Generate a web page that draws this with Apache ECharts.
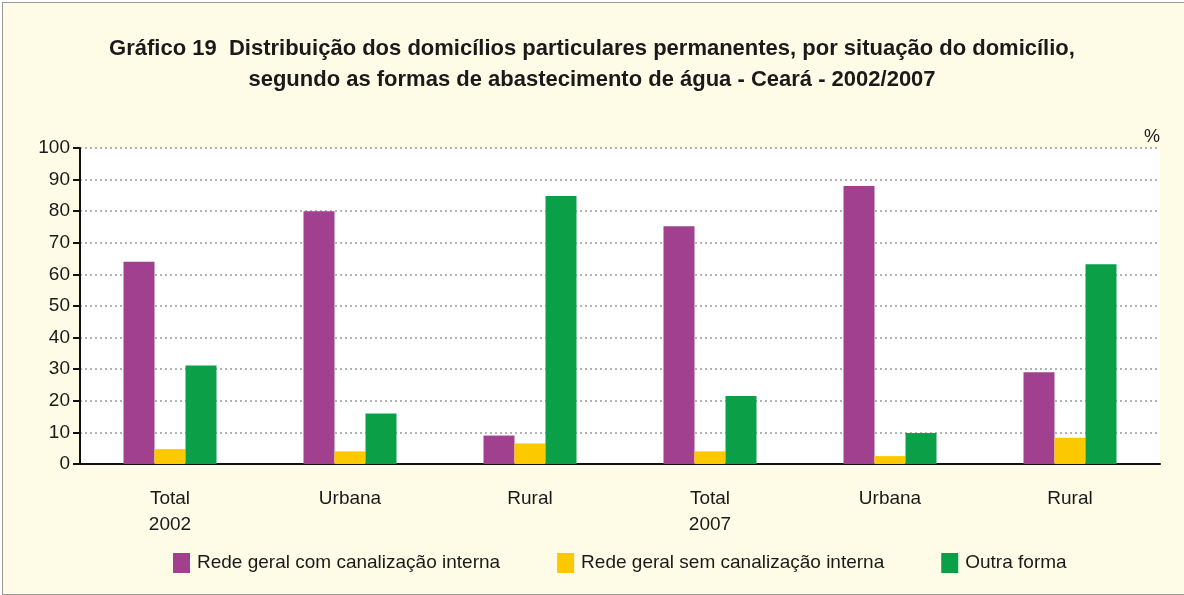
<!DOCTYPE html>
<html><head><meta charset="utf-8">
<script src="https://cdn.jsdelivr.net/npm/echarts@6/dist/echarts.min.js"></script>
<style>
html,body{margin:0;padding:0;background:#fff;}
#wrap{position:absolute;left:2px;top:2px;width:1182px;height:591px;border:1px solid #9a9a9a;border-right:none;background:#fefbe6;}
#c{width:1184px;height:595px;position:absolute;left:0;top:0;}
</style></head>
<body>
<div id="wrap"></div>
<div id="c"></div>
<script>
const categories = ['Total\n2002', 'Urbana', 'Rural', 'Total\n2007', 'Urbana', 'Rural'];
const seriesNames = ['Rede geral com canalização interna', 'Rede geral sem canalização interna', 'Outra forma'];
const redeCom = [64, 80, 9, 75.2, 88, 29];
const redeSem = [4.7, 4, 6.5, 4, 2.5, 8.3];
const outra = [31.2, 16, 84.8, 21.5, 9.8, 63.2];
const colors = ['#a0408f', '#fcc800', '#0b9f48'];
const FONT = '"Liberation Sans Narrow", "Arial Narrow", "Liberation Sans", sans-serif';

const chart = echarts.init(document.getElementById('c'), null, {renderer: 'canvas'});
chart.setOption({
  backgroundColor: 'transparent',
  animation: false,
  title: {
    text: 'Gráfico 19  Distribuição dos domicílios particulares permanentes, por situação do domicílio,\nsegundo as formas de abastecimento de água - Ceará - 2002/2007',
    left: 'center', top: 28,
    textStyle: {fontFamily: FONT, fontWeight: 'bold', fontSize: 22, lineHeight: 31, color: '#1a1a1a'}
  },
  legend: {
    bottom: 17, left: 168,
    itemWidth: 17, itemHeight: 20, itemGap: 57,
    icon: 'rect',
    textStyle: {fontFamily: FONT, fontSize: 19, color: '#1a1a1a', padding: [0,0,0,2]},
    data: seriesNames
  },
  grid: {left: 80, right: 24, top: 148, bottom: 131, show: true, backgroundColor: '#ffffff', borderWidth: 0},
  graphic: [{type: 'text', left: 1144, top: 128, style: {text: '%', font: '18px ' + FONT, fill: '#1a1a1a'}}],
  xAxis: {
    type: 'category', data: categories,
    axisLine: {lineStyle: {color: '#111', width: 2}},
    axisTick: {length: 9, lineStyle: {color: '#111', width: 2}},
    axisLabel: {fontFamily: FONT, fontSize: 19, color: '#1a1a1a', margin: 22, lineHeight: 26}
  },
  yAxis: {
    type: 'value', min: 0, max: 100, interval: 10,
    axisLine: {show: true, lineStyle: {color: '#111', width: 2}},
    axisTick: {show: true, length: 7, lineStyle: {color: '#111', width: 2}},
    axisLabel: {fontFamily: FONT, fontSize: 19, color: '#1a1a1a', margin: 10},
    splitLine: {lineStyle: {color: '#9a9a9a', type: [2, 3], width: 1.5}}
  },
  series: [
    {name: seriesNames[0], type: 'bar', data: redeCom, barWidth: 31, barGap: '0%', itemStyle: {color: colors[0]}},
    {name: seriesNames[1], type: 'bar', data: redeSem, barWidth: 31, barGap: '0%', itemStyle: {color: colors[1]}},
    {name: seriesNames[2], type: 'bar', data: outra, barWidth: 31, barGap: '0%', itemStyle: {color: colors[2]}}
  ]
});
</script>
</body></html>
